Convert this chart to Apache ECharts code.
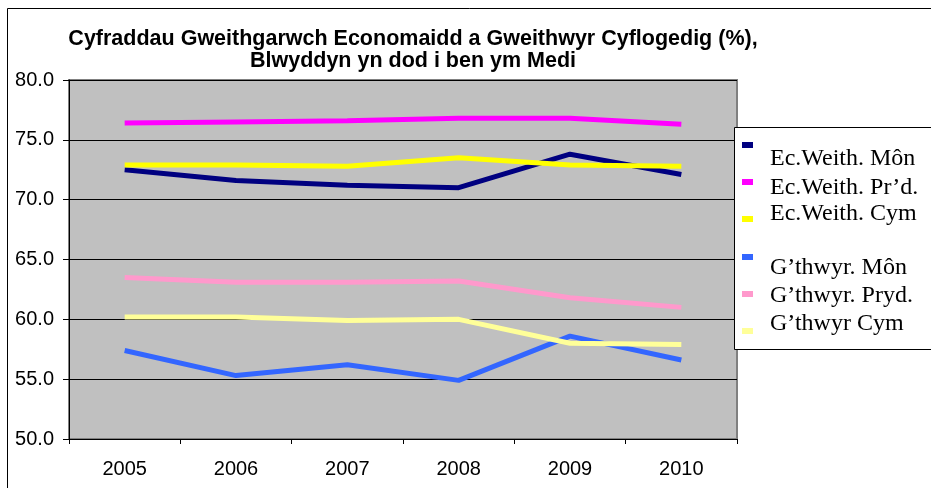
<!DOCTYPE html>
<html>
<head>
<meta charset="utf-8">
<script src="https://cdn.jsdelivr.net/npm/echarts@6/dist/echarts.min.js"></script>
<style>
  html, body { margin: 0; padding: 0; background: #ffffff; }
  #chart { width: 931px; height: 488px; }
</style>
</head>
<body>
<div id="chart"></div>
<script>
// Years on the category axis
const years = ['2005', '2006', '2007', '2008', '2009', '2010'];

// Economic activity rates (%)
const ecWeithMon = [72.5, 71.6, 71.2, 71.0, 73.8, 72.1];
const ecWeithPrd = [76.4, 76.5, 76.6, 76.8, 76.8, 76.3];
const ecWeithCym = [72.9, 72.9, 72.8, 73.5, 72.9, 72.8];

// Employee rates (%)
const gthwyrMon = [57.4, 55.3, 56.2, 54.9, 58.6, 56.6];
const gthwyrPryd = [63.5, 63.1, 63.1, 63.2, 61.8, 61.0];
const gthwyrCym = [60.2, 60.2, 59.9, 60.0, 58.0, 57.9];

const seriesNames = ['Ec.Weith. Môn', 'Ec.Weith. Pr\u2019d.', 'Ec.Weith. Cym',
                     'G\u2019thwyr. Môn', 'G\u2019thwyr. Pryd.', 'G\u2019thwyr Cym'];
const seriesData = [ecWeithMon, ecWeithPrd, ecWeithCym, gthwyrMon, gthwyrPryd, gthwyrCym];
const seriesColors = ['#000080', '#FF00FF', '#FFFF00', '#3366FF', '#FF99CC', '#FFFF99'];

// Y axis range and ticks
const yMin = 50, yMax = 80, yStep = 5;

const chart = echarts.init(document.getElementById('chart'), null, { renderer: 'canvas' });

// legend layout: centre of each marker and of each label (px)
const legendMarkerMid = [146, 183, 220, 258, 295, 332];
const legendTextMid = [160, 189, 215, 269, 297, 325];
const legendLineH = 26;

const legends = seriesNames.map((name, i) => {
  const s = legendTextMid[i] - legendMarkerMid[i];
  const boxH = legendLineH + 2 * Math.abs(s);
  return {
    data: [{ name: name, icon: 'rect' }],
    left: 742,
    top: legendMarkerMid[i] - boxH / 2,
    orient: 'vertical',
    itemWidth: 11,
    itemHeight: 6,
    itemGap: 0,
    padding: 0,
    z: 10,
    selectedMode: false,
    formatter: n => '{t|' + n + '}',
    textStyle: {
      fontFamily: '"Liberation Serif", "Times New Roman", serif',
      fontSize: 24,
      color: '#000000',
      rich: {
        t: {
          fontFamily: '"Liberation Serif", "Times New Roman", serif',
          fontSize: 24,
          lineHeight: legendLineH,
          color: '#000000',
          padding: s >= 0 ? [2 * s, 0, 0, 12] : [0, 0, -2 * s, 12]
        }
      }
    }
  };
});

const option = {
  animation: false,
  backgroundColor: '#ffffff',
  title: {
    text: 'Cyfraddau Gweithgarwch Economaidd a Gweithwyr Cyflogedig (%),\nBlwyddyn yn dod i ben ym Medi',
    left: 408,
    top: 23,
    textAlign: 'center',
    textStyle: {
      fontFamily: '"Liberation Sans", Arial, sans-serif',
      fontWeight: 'bold',
      fontSize: 21.5,
      lineHeight: 22,
      color: '#000000'
    }
  },
  legend: legends,
  grid: {
    left: 69,
    right: 931 - 737,
    top: 80,
    bottom: 488 - 439,
    show: true,
    backgroundColor: '#C0C0C0',
    borderColor: '#808080',
    borderWidth: 2
  },
  xAxis: {
    type: 'category',
    data: years,
    boundaryGap: true,
    axisLine: { show: true, lineStyle: { color: '#000000', width: 1 } },
    axisTick: { show: true, alignWithLabel: false, length: 5, lineStyle: { color: '#000000' } },
    axisLabel: {
      margin: 20,
      fontFamily: '"Liberation Sans", Arial, sans-serif',
      fontSize: 20,
      color: '#000000'
    },
    splitLine: { show: false }
  },
  yAxis: {
    type: 'value',
    min: yMin,
    max: yMax,
    interval: yStep,
    axisLine: { show: true, lineStyle: { color: '#000000', width: 1 } },
    axisTick: { show: true, length: 6, lineStyle: { color: '#000000' } },
    axisLabel: {
      margin: 15,
      formatter: v => v.toFixed(1),
      fontFamily: '"Liberation Sans", Arial, sans-serif',
      fontSize: 20,
      color: '#000000'
    },
    splitLine: { show: true, lineStyle: { color: '#000000', width: 1 } }
  },
  graphic: [
    {
      type: 'rect',
      z: -10,
      shape: { x: 7.5, y: 8.5, width: 1000, height: 1000 },
      style: { fill: 'none', stroke: '#000000', lineWidth: 1 }
    },
    {
      type: 'rect',
      z: 9,
      shape: { x: 734.5, y: 127.5, width: 300, height: 222 },
      style: { fill: '#ffffff', stroke: '#000000', lineWidth: 1 }
    }
  ],
  series: seriesNames.map((name, i) => ({
    name: name,
    type: 'line',
    data: seriesData[i],
    symbol: 'none',
    color: seriesColors[i],
    lineStyle: { width: 5, color: seriesColors[i] },
    z: 2
  }))
};

chart.setOption(option);
</script>
</body>
</html>
